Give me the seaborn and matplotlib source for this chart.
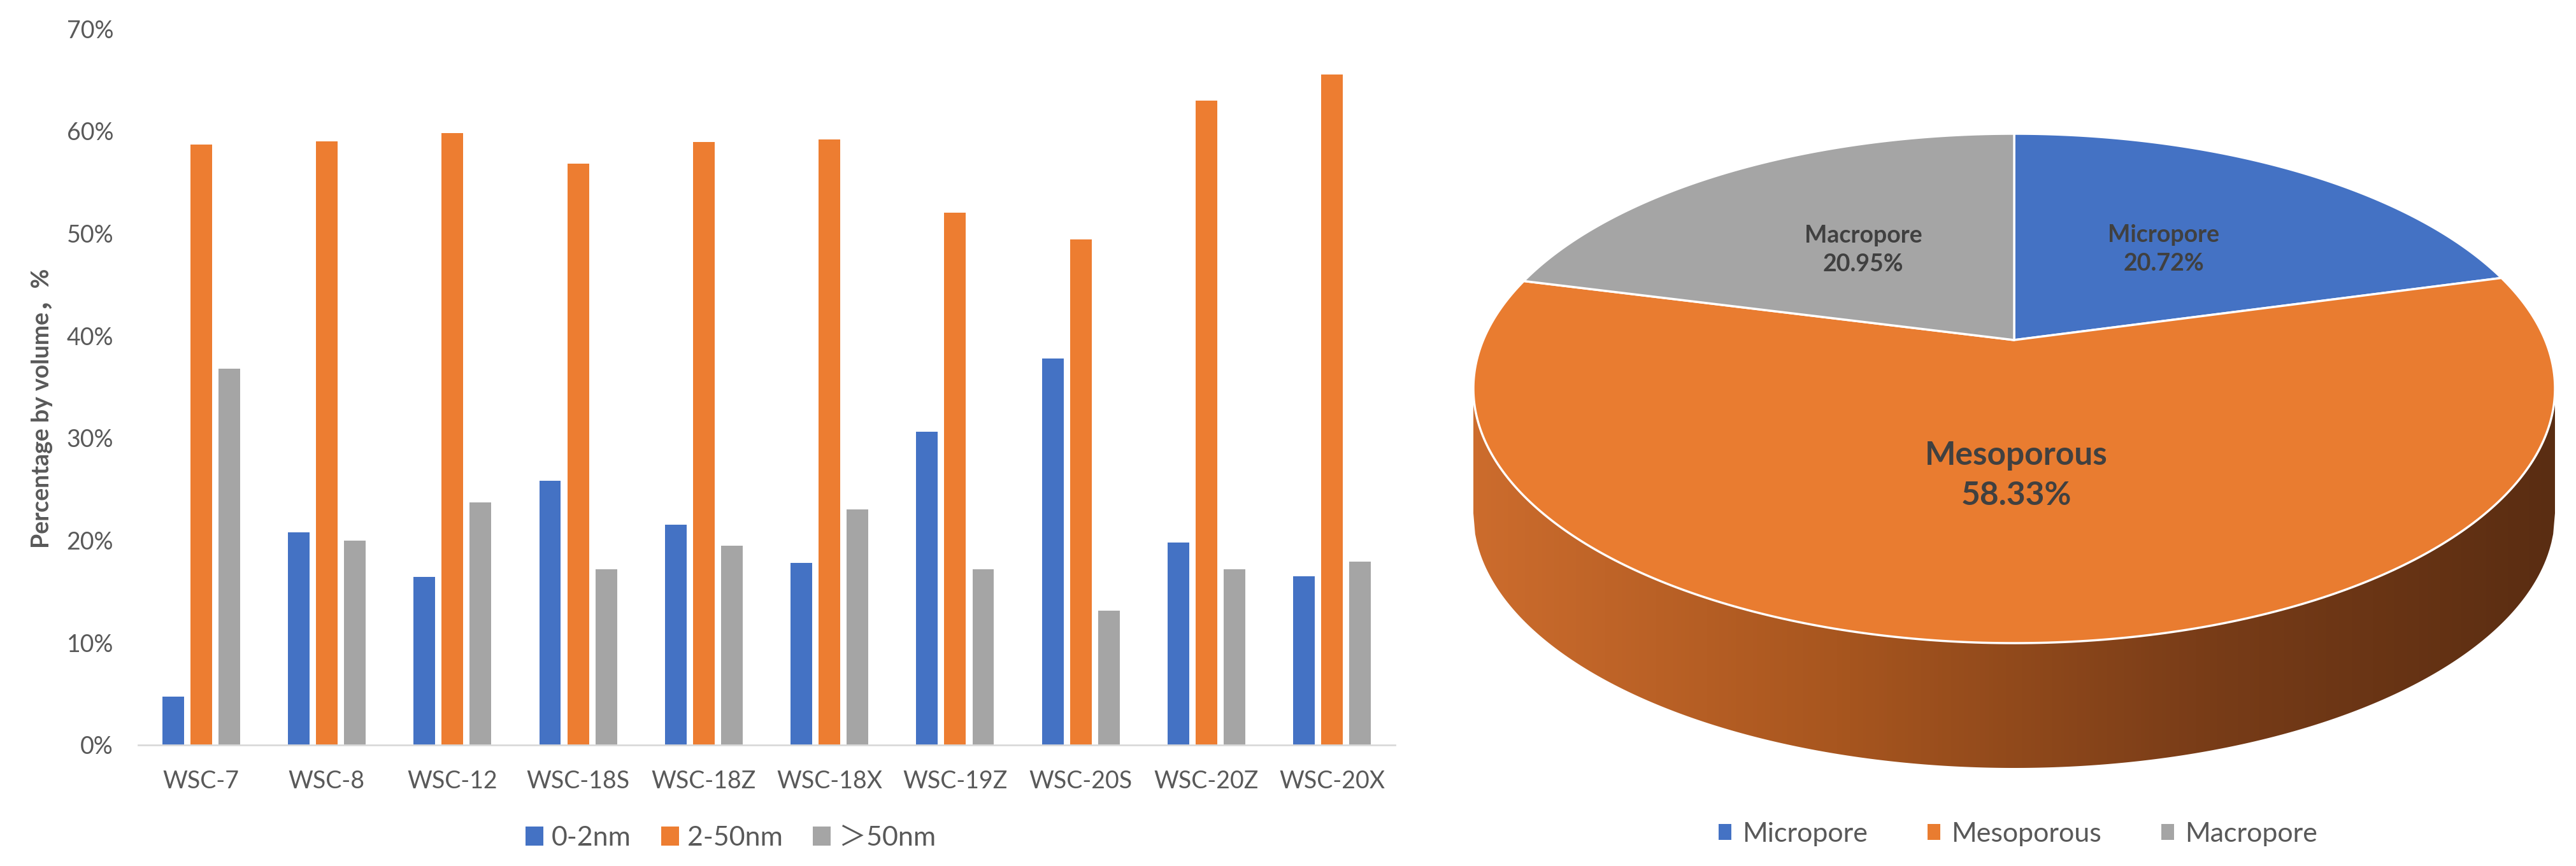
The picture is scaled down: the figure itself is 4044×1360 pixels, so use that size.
import numpy as np
import pandas as pd
import matplotlib
matplotlib.use("Agg")
import matplotlib.pyplot as plt
import matplotlib.patches as mpatches
from matplotlib.colors import LinearSegmentedColormap
from matplotlib.ticker import PercentFormatter
import seaborn as sns

# ---------------- data ----------------
samples = ["WSC-7", "WSC-8", "WSC-12", "WSC-18S", "WSC-18Z",
           "WSC-18X", "WSC-19Z", "WSC-20S", "WSC-20Z", "WSC-20X"]
micro = [4.7, 20.8, 16.4, 25.8, 21.5, 17.8, 30.6, 37.8, 19.8, 16.5]
meso = [58.7, 59.0, 59.8, 56.8, 58.9, 59.2, 52.0, 49.4, 63.0, 65.5]
macro = [36.8, 20.0, 23.7, 17.2, 19.5, 23.0, 17.2, 13.1, 17.2, 17.9]
size_classes = ["0-2nm", "2-50nm", "＞50nm"]
bar_colors = ["#4472C4", "#ED7D31", "#A5A5A5"]
y_ticks = [0, 10, 20, 30, 40, 50, 60, 70]
y_label = "Percentage by volume，%"

pie_labels = ["Micropore", "Mesoporous", "Macropore"]
pie_values = [20.72, 58.33, 20.95]
pie_colors = ["#4472C4", "#E97C30", "#A5A5A5"]

# ---------------- style ----------------
sns.set_theme(style="white")
plt.rcParams["font.family"] = ["Lato", "Noto Sans CJK SC", "DejaVu Sans"]
TXT = "#595959"

W, H, DPI = 4044, 1360, 100
fig = plt.figure(figsize=(W / DPI, H / DPI), dpi=DPI)
fig.patch.set_facecolor("white")


def rect(left, top, right, bottom):
    return [left / W, 1 - bottom / H, (right - left) / W, (bottom - top) / H]


# ---------------- bar chart ----------------
ax = fig.add_axes(rect(217, 45, 2190, 1170))
df = pd.concat([
    pd.DataFrame({"sample": samples, "size": cls, "value": vals})
    for cls, vals in zip(size_classes, [micro, meso, macro])
], ignore_index=True)

sns.barplot(data=df, x="sample", y="value", hue="size", hue_order=size_classes,
            order=samples, palette=bar_colors, saturation=1, width=0.67, gap=0.23,
            errorbar=None, ax=ax, linewidth=0)

ax.set_ylim(0, 70)
ax.set_xlim(-0.5, len(samples) - 0.5)
ax.set_yticks(y_ticks)
ax.yaxis.set_major_formatter(PercentFormatter(100, decimals=0))
ax.set_xlabel("")
ax.set_ylabel(y_label, fontsize=27, fontweight="bold", color=TXT)
ax.yaxis.set_label_coords(-0.068, 0.47)
ax.tick_params(axis="y", length=0, pad=28, labelsize=27, labelcolor=TXT)
ax.tick_params(axis="x", length=0, pad=28, labelsize=27, labelcolor=TXT)
for s in ["top", "right", "left"]:
    ax.spines[s].set_visible(False)
ax.spines["bottom"].set_color("#D9D9D9")
ax.spines["bottom"].set_linewidth(2)
ax.grid(False)

handles, labels = ax.get_legend_handles_labels()
if ax.get_legend() is not None:
    ax.get_legend().remove()
fig.legend(handles, labels, loc="center", bbox_to_anchor=(1147 / W, 1 - 1316 / H),
           ncol=3, frameon=False, fontsize=31, handlelength=0.65, handleheight=0.7,
           handletextpad=0.3, columnspacing=1.1, labelcolor=TXT)

# ---------------- 3D-looking pie ----------------
ax2 = fig.add_axes(rect(2313, 210, 4011, 1206))
depth = 0.49   # side thickness in radius units
tilt = 0.19    # perspective shift of the centre

wedges, texts, autotexts = ax2.pie(
    pie_values, colors=pie_colors, startangle=90, counterclock=False,
    autopct="%.2f%%", pctdistance=0.5,
    wedgeprops=dict(edgecolor="white", linewidth=2.5))


def persp(xy):
    xy = np.asarray(xy, dtype=float)
    x, y = xy[:, 0], xy[:, 1]
    den = 1 + tilt * y
    return np.column_stack([x * np.sqrt(1 - tilt ** 2) / den, (y + tilt) / den])


# side band (front half of the cylinder wall)
xs = np.linspace(-1, 1, 600)
top = -np.sqrt(np.clip(1 - xs ** 2, 0, None))
side_xy = np.concatenate([np.column_stack([xs, top]),
                          np.column_stack([xs[::-1], top[::-1] - depth])])
side = mpatches.Polygon(side_xy, closed=True, facecolor="none", edgecolor="none", zorder=1)
ax2.add_patch(side)
grad_cmap = LinearSegmentedColormap.from_list(
    "side", ["#CC6C2D", "#A8561F", "#7A3D18", "#5A2D12"])
grad = np.linspace(0, 1, 512)[None, :]
img = ax2.imshow(grad, cmap=grad_cmap, extent=[-1, 1, -1 - depth, 0.05],
                 aspect="auto", zorder=1, interpolation="bicubic")
img.set_clip_path(side)

# top face with perspective
for w in wedges:
    ang = np.linspace(w.theta1, w.theta2, 300)
    cx, cy = w.center
    arc = np.column_stack([cx + w.r * np.cos(np.radians(ang)),
                           cy + w.r * np.sin(np.radians(ang))])
    verts = np.vstack([[cx, cy], arc])
    poly = mpatches.Polygon(persp(verts), closed=True, facecolor=w.get_facecolor(),
                            edgecolor="white", linewidth=2.5, joinstyle="round", zorder=3)
    ax2.add_patch(poly)
    w.set_visible(False)

for name, t in zip(pie_labels, autotexts):
    p = persp([t.get_position()])[0]
    t.set_position((p[0], p[1]))
    t.set_text(f"{name}\n{t.get_text()}")
    t.set_color("#404040")
    t.set_fontweight("bold")
    t.set_zorder(5)
    t.set_linespacing(1.4)
    t.set_fontsize(37 if name == "Mesoporous" else 27)

ax2.set_aspect("auto")
ax2.set_xlim(-1, 1)
ax2.set_ylim(-1 - depth, 1)
ax2.axis("off")

pie_handles = [mpatches.Patch(facecolor=c, edgecolor="none") for c in pie_colors]
fig.legend(pie_handles, pie_labels, loc="center", bbox_to_anchor=(3168 / W, 1 - 1310 / H),
           ncol=3, frameon=False, fontsize=31, handlelength=0.45, handleheight=0.5,
           handletextpad=0.4, columnspacing=2.2, labelcolor=TXT)

fig.savefig("out.png", dpi=DPI, facecolor="white")
